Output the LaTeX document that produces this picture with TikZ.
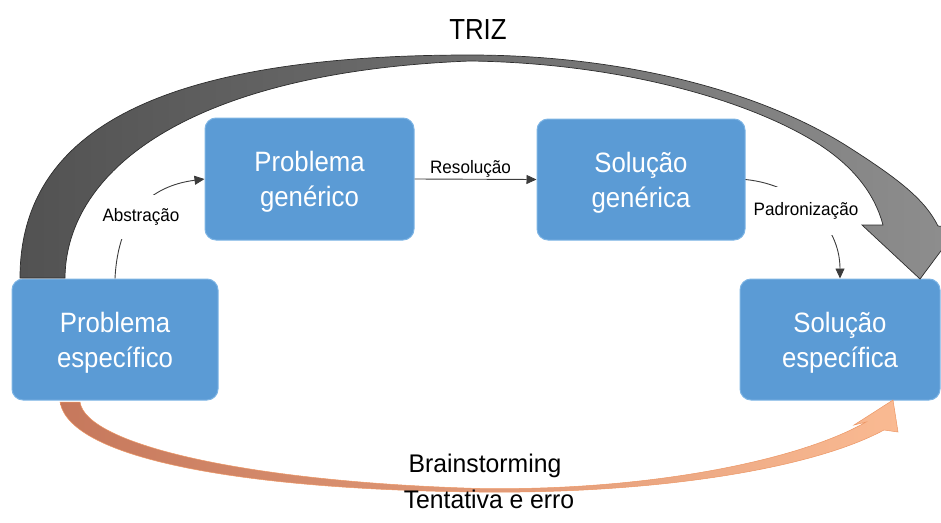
\documentclass[tikz,border=0pt]{standalone}
\usepackage{fontspec}
\setmainfont{Liberation Sans}
\newfontfamily\boxfont[FakeStretch=0.92]{Liberation Sans}
\newfontfamily\trizfont[FakeStretch=0.89]{Liberation Sans}
\newfontfamily\lblfont[FakeStretch=0.95]{Liberation Sans}
\newfontfamily\btmfont[FakeStretch=0.97]{Liberation Sans}
\usetikzlibrary{arrows.meta}
\definecolor{boxblue}{RGB}{91,155,213}
\definecolor{boxedge}{RGB}{125,180,228}
\definecolor{trizdark}{RGB}{82,82,82}
\definecolor{trizlight}{RGB}{142,142,142}
\definecolor{trizline}{RGB}{45,45,45}
\definecolor{orgdark}{RGB}{198,120,92}
\definecolor{orglight}{RGB}{250,186,146}
\definecolor{orgline}{RGB}{236,150,100}
\definecolor{thinline}{RGB}{60,60,60}
\begin{document}
\begin{tikzpicture}[x=1pt,y=-1pt,
  box/.style={draw=boxedge, line width=1pt, fill=boxblue, rounded corners=11pt,
    text=white, align=center, inner sep=0pt,
    font=\boxfont\fontsize{28}{35}\selectfont},
  lbl/.style={fill=white, inner xsep=1pt, inner ysep=0pt,
    font=\lblfont\fontsize{18}{20}\selectfont},
  conn/.style={draw=thinline, line width=0.9pt, -{Triangle[length=10pt,width=9pt]}},
  bigtext/.style={font=\btmfont\fontsize{25.5}{28}\selectfont, anchor=base, inner sep=0pt},
]
\useasboundingbox (0,0) rectangle (941,522);

% boxes
\node[box, minimum width=206pt, minimum height=121pt] (pe) at (115,339.5)
  {\rule{0pt}{26pt}Problema\\específico};
\node[box, minimum width=209pt, minimum height=122pt] (pg) at (309.5,179)
  {\rule{0pt}{26pt}Problema\\genérico};
\node[box, minimum width=208pt, minimum height=121pt] (sg) at (641,179.5)
  {\rule{0pt}{26pt}Solução\\genérica};
\node[box, minimum width=200pt, minimum height=121pt] (se) at (840,339.5)
  {\rule{0pt}{26pt}Solução\\específica};

% thin connectors
\draw[conn] (pe.north) .. controls (118,215) and (150,186) .. (pg.west);
\draw[conn] (pg.east) -- (sg.west)
  node[midway, above=0pt, inner sep=1pt, xshift=-5pt,
       font=\lblfont\fontsize{18}{20}\selectfont] (res) {Resolução};
\draw[conn] (sg.east) .. controls (800,185) and (840,225) .. (se.north);

\node[lbl, minimum height=44pt] (abs) at (141,217) {Abstração};
\node[lbl, minimum height=48pt] (pad) at (806,211) {Padronização};

% TRIZ big curved arrow
\shadedraw[left color=trizdark, right color=trizlight, draw=trizline, line width=0.7pt]
  (20,278) .. controls (20,130) and (160,55) .. (470,55)
  .. controls (620,55) and (760,90) .. (850,148)
  .. controls (900,180) and (925,200) .. (938,226)
  -- (958,228) -- (920,279) -- (862,225) -- (883,225)
  .. controls (875,195) and (855,168) .. (820,145)
  .. controls (750,100) and (620,63) .. (470,61)
  .. controls (190,72) and (66,170) .. (65,278)
  -- cycle;
\node[font=\trizfont\fontsize{29}{32}\selectfont, anchor=base, inner sep=0pt] (triz) at (478,39) {TRIZ};

% Brainstorming curved arrow
\shadedraw[left color=orgdark, right color=orglight, draw=orgline, line width=0.5pt]
  (80,402) .. controls (86,445) and (250,482) .. (480,488.5)
  .. controls (650,491) and (800,460) .. (866,422)
  -- (854,425) -- (893,400) -- (898,432) -- (884,430)
  .. controls (810,470) and (650,494) .. (480,492)
  .. controls (250,490) and (70,460) .. (60,402)
  -- cycle;

\node[bigtext] (bs) at (485,472) {Brainstorming};
\node[bigtext] (te) at (489,508) {Tentativa e erro};
\end{tikzpicture}
\end{document}
